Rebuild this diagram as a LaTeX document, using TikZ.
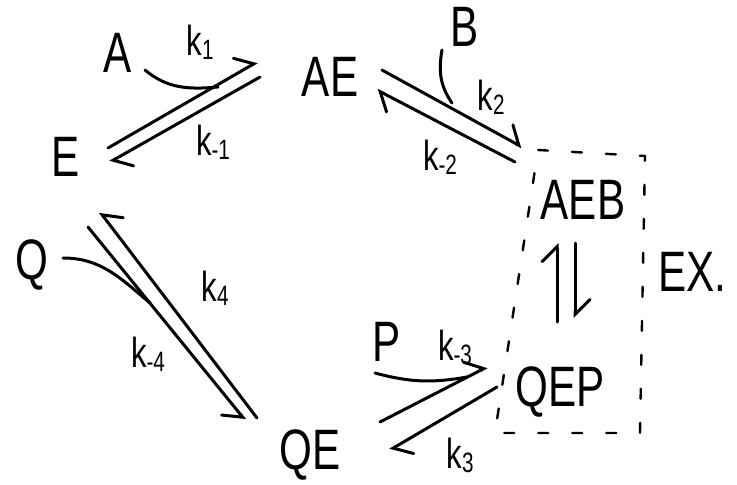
\documentclass[tikz,border=0pt]{standalone}
\usepackage{fontspec}
\setmainfont{Liberation Sans}[FakeStretch=0.74]
\usetikzlibrary{arrows.meta}
\newcommand\ksub[1]{k\raisebox{-4pt}{\fontsize{28}{30}\selectfont #1}}
\begin{document}
\begin{tikzpicture}[x=1pt,y=-1pt,
  sp/.style={inner sep=0pt, font=\fontsize{57}{64}\selectfont},
  klab/.style={inner sep=0pt, font=\fontsize{42}{48}\selectfont},
  rxn/.style={line width=3pt, line cap=round, line join=round},
  harpL/.style={rxn, -{Straight Barb[left,length=15pt,width=30pt,line cap=round]}},
  harpR/.style={rxn, -{Straight Barb[right,length=15pt,width=30pt,line cap=round]}},
  dashbox/.style={line width=2.4pt, dash pattern=on 10pt off 24pt, line cap=round}]
\useasboundingbox[fill=white] (0,0) rectangle (737,485);

% species
\node[sp] (A) at (118,53) {A};
\node[sp] (AE) at (330,77) {AE};
\node[sp] (E) at (66,157) {E};
\node[sp] (B) at (465,27) {B};
\node[sp] (AEB) at (583,200) {AEB};
\node[sp,anchor=west] (EX) at (658,272) {EX.};
\node[sp] (Q) at (32,265) {Q};
\node[sp] (QE) at (310,455) {QE};
\node[sp] (P) at (387,342) {P};
\node[sp] (QEP) at (560,392) {QEP};

% rate constants
\node[klab] (k1) at (200,42) {\ksub{1}};
\node[klab] (km1) at (213,142) {\ksub{-1}};
\node[klab] (k2) at (491,97) {\ksub{2}};
\node[klab] (km2) at (440,157) {\ksub{-2}};
\node[klab] (k4) at (215,288) {\ksub{4}};
\node[klab] (km4) at (148,354) {\ksub{-4}};
\node[klab] (km3) at (455,347) {\ksub{-3}};
\node[klab] (k3) at (460,455) {\ksub{3}};

% connector end points
\coordinate (r1a) at (108,148); \coordinate (r1b) at (257,62);
\coordinate (r1c) at (260,77);  \coordinate (r1d) at (110,162);
\coordinate (r1s) at (145,70);  \coordinate (r1j) at (218,87);
\coordinate (r2a) at (382,70);  \coordinate (r2b) at (522,147);
\coordinate (r2c) at (515,162); \coordinate (r2d) at (377,90);
\coordinate (r2s) at (442,50);  \coordinate (r2j) at (452,103);
\coordinate (v1a) at (557,322); \coordinate (v1b) at (557,243);
\coordinate (v2a) at (575,243); \coordinate (v2b) at (575,318);
\coordinate (r3a) at (380,422); \coordinate (r3b) at (487,367);
\coordinate (r3c) at (497,387); \coordinate (r3d) at (390,450);
\coordinate (r3s) at (375,373); \coordinate (r3j) at (467,377);
\coordinate (r4a) at (88,227);  \coordinate (r4b) at (245,420);
\coordinate (r4c) at (257,418); \coordinate (r4d) at (100,212);
\coordinate (r4s) at (63,258);  \coordinate (r4j) at (150,303);
\coordinate (bx1) at (538,150); \coordinate (bx2) at (645,156);
\coordinate (bx3) at (640,433); \coordinate (bx4) at (495,433);

% E + A <=> AE
\draw[harpL] (r1a) -- (r1b);
\draw[harpL] (r1c) -- (r1d);
\draw[rxn] (r1s) to[out=-40,in=185] (r1j);
% AE + B <=> AEB
\draw[harpL] (r2a) -- (r2b);
\draw[harpL] (r2c) -- (r2d);
\draw[rxn] (r2s) to[out=-100,in=125] (r2j);
% AEB <=> QEP
\draw[harpL] (v1a) -- (v1b);
\draw[harpL] (v2a) -- (v2b);
% QE + P <=> QEP
\draw[harpL] (r3a) -- (r3b);
\draw[harpL] (r3c) -- (r3d);
\draw[rxn] (r3s) to[out=-15,in=190] (r3j);
% E + Q <=> QE
\draw[harpR] (r4a) -- (r4b);
\draw[harpR] (r4c) -- (r4d);
\draw[rxn] (r4s) to[out=0,in=140] (r4j);

% EX box
\draw[dashbox] (bx1) -- (bx2) -- (bx3) -- (bx4) -- cycle;
\end{tikzpicture}
\end{document}
